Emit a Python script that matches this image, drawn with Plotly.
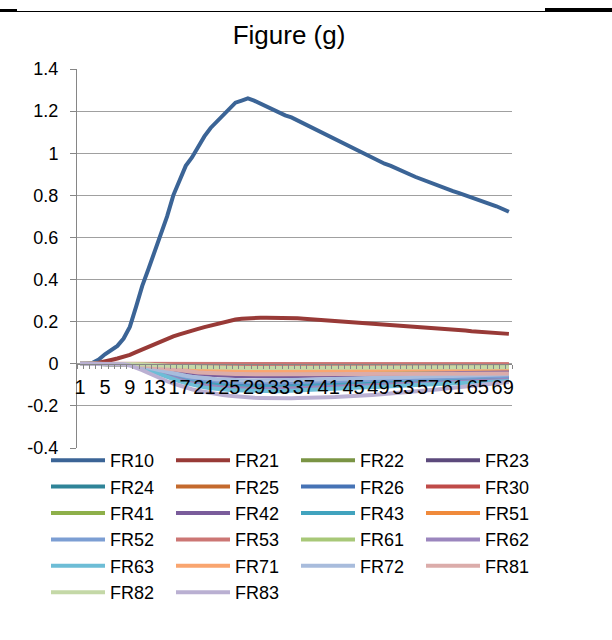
import plotly.graph_objects as go

# ---------------- data ----------------
periods = list(range(1, 71))
x_tick_vals = [1, 5, 9, 13, 17, 21, 25, 29, 33, 37, 41, 45, 49, 53, 57, 61, 65, 69]
x_tick_text = ["1", "5", "9", "13", "17", "21", "25", "29", "33", "37", "41", "45",
               "49", "53", "57", "61", "65", "69"]
y_tick_vals = [1.4, 1.2, 1.0, 0.8, 0.6, 0.4, 0.2, 0.0, -0.2, -0.4]
y_tick_text = ["1.4", "1.2", "1", "0.8", "0.6", "0.4", "0.2", "0", "-0.2", "-0.4"]

fr10 = [0, 0, 0.005, 0.02, 0.045, 0.065, 0.085, 0.12, 0.175, 0.27,
        0.37, 0.45, 0.53, 0.61, 0.70, 0.80, 0.87, 0.94, 0.98, 1.03,
        1.08, 1.12, 1.15, 1.18, 1.215, 1.24, 1.25, 1.26, 1.25, 1.235,
        1.225, 1.21, 1.195, 1.18, 1.17, 1.155, 1.14, 1.125, 1.11, 1.095,
        1.08, 1.065, 1.05, 1.035, 1.02, 1.005, 0.99, 0.98, 0.965, 0.95,
        0.94, 0.925, 0.91, 0.90, 0.887, 0.875, 0.864, 0.853, 0.842, 0.831,
        0.82, 0.81, 0.80, 0.79, 0.78, 0.77, 0.758, 0.748, 0.735, 0.722]
fr21 = [0, 0, 0.002, 0.005, 0.01, 0.018, 0.025, 0.033, 0.042, 0.055,
        0.068, 0.08, 0.095, 0.108, 0.12, 0.13, 0.14, 0.15, 0.158, 0.166,
        0.174, 0.182, 0.19, 0.198, 0.205, 0.21, 0.214, 0.217, 0.218, 0.219,
        0.219, 0.219, 0.219, 0.218, 0.217, 0.216, 0.214, 0.212, 0.21, 0.208,
        0.206, 0.204, 0.202, 0.2, 0.198, 0.196, 0.194, 0.192, 0.19, 0.188,
        0.186, 0.184, 0.182, 0.179, 0.177, 0.175, 0.172, 0.17, 0.168, 0.165,
        0.163, 0.16, 0.158, 0.155, 0.153, 0.15, 0.148, 0.146, 0.144, 0.142]
fr22 = [0, 0, 0, 0, 0, 0, 0, 0, 0, -.001,
        -.003, -.004, -.006, -.008, -.010, -.011, -.013, -.014, -.015, -.016,
        -.017, -.018, -.018, -.019, -.019, -.019, -.020, -.020, -.020, -.020,
        -.020, -.020, -.020, -.020, -.020, -.019, -.019, -.019, -.019, -.019,
        -.018, -.018, -.018, -.018, -.018, -.017, -.017, -.017, -.017, -.017,
        -.016, -.016, -.016, -.016, -.016, -.015, -.015, -.015, -.015, -.015,
        -.014, -.014, -.014, -.014, -.014, -.013, -.013, -.013, -.013, -.013]
fr23 = [0, 0, 0, 0, 0, 0, 0, 0, -.001, -.002,
        -.004, -.007, -.009, -.012, -.015, -.017, -.019, -.021, -.023, -.025,
        -.026, -.027, -.028, -.028, -.029, -.029, -.029, -.030, -.030, -.030,
        -.030, -.030, -.030, -.030, -.029, -.029, -.029, -.029, -.028, -.028,
        -.028, -.027, -.027, -.027, -.026, -.026, -.026, -.026, -.025, -.025,
        -.025, -.024, -.024, -.024, -.023, -.023, -.023, -.023, -.022, -.022,
        -.022, -.021, -.021, -.021, -.020, -.020, -.020, -.020, -.019, -.019]
fr24 = [0, 0, 0, 0, 0, 0, 0, 0, -.001, -.004,
        -.007, -.011, -.016, -.020, -.025, -.029, -.032, -.036, -.039, -.041,
        -.043, -.045, -.046, -.047, -.048, -.049, -.049, -.050, -.050, -.050,
        -.050, -.050, -.050, -.050, -.049, -.049, -.048, -.048, -.047, -.047,
        -.046, -.046, -.045, -.045, -.044, -.044, -.043, -.043, -.042, -.042,
        -.041, -.041, -.040, -.040, -.039, -.039, -.038, -.038, -.037, -.037,
        -.036, -.036, -.035, -.035, -.034, -.034, -.033, -.033, -.032, -.032]
fr25 = [0, 0, 0, 0, 0, 0, 0, 0, 0, -.001,
        -.001, -.002, -.003, -.004, -.005, -.006, -.006, -.007, -.008, -.008,
        -.009, -.009, -.009, -.009, -.010, -.010, -.010, -.010, -.010, -.010,
        -.010, -.010, -.010, -.010, -.009, -.009, -.009, -.009, -.009, -.009,
        -.009, -.009, -.009, -.009, -.008, -.008, -.008, -.008, -.008, -.008,
        -.008, -.008, -.008, -.008, -.008, -.007, -.007, -.007, -.007, -.007,
        -.007, -.007, -.007, -.007, -.007, -.007, -.007, -.007, -.007, -.007]
fr26 = [0, 0, 0, 0, 0, 0, 0, 0, -.002, -.007,
        -.014, -.022, -.031, -.040, -.049, -.057, -.064, -.071, -.077, -.082,
        -.086, -.089, -.092, -.094, -.096, -.097, -.098, -.099, -.100, -.100,
        -.100, -.100, -.100, -.099, -.098, -.097, -.096, -.095, -.094, -.093,
        -.092, -.091, -.090, -.089, -.088, -.087, -.086, -.085, -.084, -.083,
        -.082, -.081, -.080, -.079, -.078, -.077, -.076, -.075, -.074, -.073,
        -.072, -.071, -.070, -.069, -.068, -.067, -.066, -.065, -.064, -.063]
fr30 = [0, 0, 0, 0, 0, 0, 0, 0, 0, 0,
        -.001, -.001, -.002, -.002, -.002, -.003, -.003, -.004, -.004, -.004,
        -.004, -.004, -.005, -.005, -.005, -.005, -.005, -.005, -.005, -.005,
        -.005, -.005, -.005, -.005, -.005, -.005, -.005, -.005, -.005, -.005,
        -.005, -.005, -.005, -.005, -.005, -.004, -.004, -.004, -.004, -.004,
        -.004, -.004, -.004, -.004, -.004, -.004, -.004, -.004, -.004, -.004,
        -.004, -.004, -.004, -.004, -.004, -.004, -.004, -.004, -.004, -.004]
fr41 = [0, 0, 0, 0, 0, 0, 0, 0, -.001, -.003,
        -.006, -.009, -.012, -.016, -.020, -.023, -.026, -.028, -.031, -.033,
        -.034, -.036, -.037, -.038, -.038, -.039, -.039, -.040, -.040, -.040,
        -.040, -.040, -.040, -.040, -.039, -.039, -.038, -.038, -.038, -.037,
        -.037, -.036, -.036, -.036, -.035, -.035, -.034, -.034, -.034, -.033,
        -.033, -.032, -.032, -.032, -.031, -.031, -.030, -.030, -.030, -.029,
        -.029, -.028, -.028, -.028, -.027, -.027, -.026, -.026, -.026, -.025]
fr42 = [0, 0, 0, 0, 0, 0, 0, 0, -.001, -.004,
        -.008, -.013, -.019, -.024, -.029, -.034, -.038, -.043, -.046, -.049,
        -.052, -.053, -.055, -.056, -.058, -.058, -.059, -.059, -.060, -.060,
        -.060, -.060, -.060, -.059, -.059, -.058, -.058, -.057, -.056, -.056,
        -.055, -.055, -.054, -.053, -.053, -.052, -.052, -.051, -.050, -.050,
        -.049, -.049, -.048, -.047, -.047, -.046, -.046, -.045, -.044, -.044,
        -.043, -.043, -.042, -.041, -.041, -.040, -.040, -.039, -.038, -.038]
fr43 = [0, 0, 0, 0, 0, 0, 0, 0, -.002, -.008,
        -.015, -.024, -.034, -.044, -.054, -.063, -.070, -.078, -.085, -.090,
        -.095, -.098, -.101, -.103, -.106, -.107, -.108, -.109, -.110, -.110,
        -.110, -.110, -.110, -.109, -.108, -.107, -.106, -.105, -.103, -.102,
        -.101, -.100, -.099, -.098, -.097, -.096, -.095, -.094, -.092, -.091,
        -.090, -.089, -.088, -.087, -.086, -.085, -.084, -.083, -.081, -.080,
        -.079, -.078, -.077, -.076, -.075, -.074, -.073, -.072, -.070, -.069]
fr51 = [0, 0, 0, 0, 0, 0, 0, 0, -.001, -.002,
        -.004, -.007, -.009, -.012, -.015, -.017, -.019, -.021, -.023, -.025,
        -.026, -.027, -.028, -.028, -.029, -.029, -.029, -.030, -.030, -.030,
        -.030, -.030, -.030, -.030, -.029, -.029, -.029, -.029, -.028, -.028,
        -.028, -.027, -.027, -.027, -.026, -.026, -.026, -.026, -.025, -.025,
        -.025, -.024, -.024, -.024, -.023, -.023, -.023, -.023, -.022, -.022,
        -.022, -.021, -.021, -.021, -.020, -.020, -.020, -.020, -.019, -.019]
fr52 = [0, 0, 0, 0, 0, 0, 0, 0, -.002, -.006,
        -.013, -.020, -.028, -.036, -.044, -.051, -.058, -.064, -.069, -.074,
        -.077, -.080, -.083, -.085, -.086, -.087, -.088, -.089, -.090, -.090,
        -.090, -.090, -.090, -.089, -.088, -.087, -.086, -.086, -.085, -.084,
        -.083, -.082, -.081, -.080, -.079, -.078, -.077, -.077, -.076, -.075,
        -.074, -.073, -.072, -.071, -.070, -.069, -.068, -.068, -.067, -.066,
        -.065, -.064, -.063, -.062, -.061, -.060, -.059, -.059, -.058, -.057]
fr53 = [0, 0, 0, 0, 0, 0, 0, 0, 0, 0,
        0, -.001, -.001, -.001, -.001, -.002, -.002, -.002, -.002, -.002,
        -.003, -.003, -.003, -.003, -.003, -.003, -.003, -.003, -.003, -.003,
        -.003, -.003, -.003, -.003, -.003, -.003, -.003, -.003, -.003, -.003,
        -.003, -.003, -.003, -.003, -.003, -.003, -.003, -.003, -.003, -.003,
        -.003, -.003, -.003, -.003, -.003, -.003, -.003, -.003, -.003, -.003,
        -.002, -.002, -.002, -.002, -.002, -.002, -.002, -.002, -.002, -.002]
fr61 = [0, 0, 0, 0, 0, 0, 0, 0, -.001, -.002,
        -.004, -.006, -.008, -.010, -.012, -.014, -.016, -.018, -.019, -.021,
        -.022, -.022, -.023, -.024, -.024, -.024, -.025, -.025, -.025, -.025,
        -.025, -.025, -.025, -.025, -.024, -.024, -.024, -.024, -.023, -.023,
        -.023, -.023, -.022, -.022, -.022, -.022, -.021, -.021, -.021, -.021,
        -.020, -.020, -.020, -.020, -.019, -.019, -.019, -.019, -.018, -.018,
        -.018, -.018, -.017, -.017, -.017, -.017, -.016, -.016, -.016, -.016]
fr62 = [0, 0, 0, 0, 0, 0, 0, 0, -.002, -.008,
        -.017, -.026, -.037, -.048, -.059, -.068, -.077, -.085, -.092, -.098,
        -.103, -.107, -.110, -.113, -.115, -.116, -.118, -.119, -.120, -.120,
        -.120, -.120, -.120, -.119, -.118, -.116, -.115, -.114, -.113, -.112,
        -.110, -.109, -.108, -.107, -.106, -.104, -.103, -.102, -.101, -.100,
        -.098, -.097, -.096, -.095, -.094, -.092, -.091, -.090, -.089, -.088,
        -.086, -.085, -.084, -.083, -.082, -.080, -.079, -.078, -.077, -.076]
fr63 = [0, 0, 0, 0, 0, 0, 0, 0, -.003, -.009,
        -.018, -.029, -.040, -.052, -.064, -.074, -.083, -.092, -.100, -.107,
        -.112, -.116, -.120, -.122, -.125, -.126, -.127, -.129, -.130, -.130,
        -.130, -.130, -.130, -.129, -.127, -.126, -.125, -.124, -.122, -.121,
        -.120, -.118, -.117, -.116, -.114, -.113, -.112, -.111, -.109, -.108,
        -.107, -.105, -.104, -.103, -.101, -.100, -.099, -.098, -.096, -.095,
        -.094, -.092, -.091, -.090, -.088, -.087, -.086, -.085, -.083, -.082]
fr71 = [0, 0, 0, 0, 0, 0, 0, 0, -.001, -.002,
        -.005, -.008, -.011, -.014, -.017, -.020, -.022, -.025, -.027, -.029,
        -.030, -.031, -.032, -.033, -.034, -.034, -.034, -.035, -.035, -.035,
        -.035, -.035, -.035, -.035, -.034, -.034, -.034, -.033, -.033, -.033,
        -.032, -.032, -.032, -.031, -.031, -.031, -.030, -.030, -.030, -.029,
        -.029, -.029, -.028, -.028, -.028, -.027, -.027, -.027, -.026, -.026,
        -.026, -.025, -.025, -.025, -.024, -.024, -.024, -.023, -.023, -.023]
fr72 = [0, 0, 0, 0, 0, 0, 0, 0, -.002, -.006,
        -.011, -.018, -.025, -.032, -.039, -.046, -.051, -.057, -.062, -.066,
        -.069, -.071, -.074, -.075, -.077, -.078, -.078, -.079, -.080, -.080,
        -.080, -.080, -.080, -.079, -.078, -.078, -.077, -.076, -.075, -.074,
        -.074, -.073, -.072, -.071, -.070, -.070, -.069, -.068, -.067, -.066,
        -.066, -.065, -.064, -.063, -.062, -.062, -.061, -.060, -.059, -.058,
        -.058, -.057, -.056, -.055, -.054, -.054, -.053, -.052, -.051, -.050]
fr81 = [0, 0, 0, 0, 0, 0, 0, 0, -.001, -.004,
        -.007, -.011, -.016, -.020, -.025, -.029, -.032, -.036, -.039, -.041,
        -.043, -.045, -.046, -.047, -.048, -.049, -.049, -.050, -.050, -.050,
        -.050, -.050, -.050, -.050, -.050, -.050, -.050, -.050, -.050, -.050,
        -.049, -.049, -.049, -.049, -.049, -.049, -.049, -.049, -.049, -.049,
        -.048, -.048, -.048, -.048, -.048, -.048, -.048, -.048, -.047, -.047,
        -.047, -.047, -.047, -.047, -.046, -.046, -.046, -.046, -.046, -.046]
fr82 = [0, 0, 0, 0, 0, 0, 0, 0, 0, -.001,
        -.003, -.004, -.006, -.008, -.010, -.011, -.013, -.014, -.015, -.016,
        -.017, -.018, -.018, -.019, -.019, -.019, -.020, -.020, -.020, -.020,
        -.020, -.020, -.020, -.020, -.020, -.020, -.020, -.020, -.020, -.020,
        -.019, -.019, -.019, -.019, -.019, -.019, -.019, -.019, -.019, -.019,
        -.018, -.018, -.018, -.018, -.018, -.018, -.018, -.018, -.018, -.018,
        -.017, -.017, -.017, -.017, -.017, -.017, -.017, -.017, -.017, -.017]
fr83 = [0, 0, 0, 0, 0, 0, 0, -.002, -.008, -.018,
        -.030, -.044, -.058, -.071, -.083, -.094, -.104, -.113, -.121, -.128,
        -.134, -.139, -.144, -.148, -.152, -.155, -.157, -.159, -.161, -.162,
        -.163, -.164, -.164, -.164, -.164, -.163, -.163, -.162, -.161, -.160,
        -.159, -.158, -.157, -.155, -.154, -.152, -.150, -.148, -.146, -.144,
        -.141, -.139, -.136, -.134, -.131, -.128, -.126, -.123, -.120, -.117,
        -.114, -.111, -.108, -.105, -.102, -.099, -.096, -.093, -.090, -.087]

series_names = ["FR10", "FR21", "FR22", "FR23", "FR24", "FR25", "FR26", "FR30",
                "FR41", "FR42", "FR43", "FR51", "FR52", "FR53", "FR61", "FR62",
                "FR63", "FR71", "FR72", "FR81", "FR82", "FR83"]
series_values = [fr10, fr21, fr22, fr23, fr24, fr25, fr26, fr30,
                 fr41, fr42, fr43, fr51, fr52, fr53, fr61, fr62,
                 fr63, fr71, fr72, fr81, fr82, fr83]
series_colors = ["#3B6496", "#983A37", "#7A9444", "#5C4A7C", "#2F8498", "#C46A2D",
                 "#4673B5", "#BF4B48", "#8EB04A", "#7A5C9B", "#41A3BE", "#F08A3B",
                 "#7C9ED3", "#CC7674", "#A8C878", "#9B86BE", "#6DBDD6", "#F9A56F",
                 "#A8BCDC", "#DBACAA", "#C4D8A7", "#BAB0D2"]

# ---------------- figure ----------------
FONT = "Liberation Sans, Arial, sans-serif"
W, H = 612, 640
ML, MR, MT, MB = 77, 100, 69, 192
y_min, y_max = -0.4, 1.4

fig = go.Figure()
for name, vals, col in zip(series_names, series_values, series_colors):
    fig.add_trace(go.Scatter(x=periods, y=vals, name=name, mode="lines",
                             line=dict(color=col, width=4)))

zero_pos = (0 - y_min) / (y_max - y_min)
pw = W - ML - MR
ph = H - MT - MB

fig.update_layout(
    width=W, height=H,
    margin=dict(l=ML, r=MR, t=MT, b=MB, pad=0),
    paper_bgcolor="white", plot_bgcolor="white",
    font=dict(family=FONT, color="#000000", size=18),
    title=dict(text="Figure (g)", x=(289 - ML) / pw, xref="paper", xanchor="center",
               y=1 - 35 / H, yref="container", yanchor="middle",
               font=dict(family=FONT, size=26, color="#000000")),
    showlegend=True,
    legend=dict(orientation="h", x=(46 - ML) / pw, xanchor="left",
                y=-(611 - (H - MB)) / ph, yanchor="bottom",
                font=dict(family=FONT, size=18, color="#000000"),
                itemwidth=54, entrywidth=56, entrywidthmode="pixels",
                tracegroupgap=0, bgcolor="rgba(0,0,0,0)", traceorder="normal"),
    xaxis=dict(range=[0.5, 70.5], anchor="free", position=zero_pos,
               showgrid=False, zeroline=False,
               showline=True, linecolor="#868686", linewidth=1,
               tickmode="array", tickvals=x_tick_vals, ticktext=x_tick_text,
               ticks="", tickangle=0, ticklabelstandoff=5,
               tickfont=dict(family=FONT, size=20, color="#000000"),
               minor=dict(tickmode="linear", tick0=0.5, dtick=1, ticks="outside",
                          ticklen=4, tickcolor="#868686", tickwidth=1, showgrid=False)),
    yaxis=dict(range=[y_min, y_max], domain=[0, 1],
               tickmode="array", tickvals=y_tick_vals, ticktext=y_tick_text,
               showgrid=True, gridcolor="#A0A0A0", gridwidth=1, zeroline=False,
               showline=True, linecolor="#868686", linewidth=1,
               ticks="outside", ticklen=6, tickcolor="#868686",
               ticklabelstandoff=8,
               tickfont=dict(family=FONT, size=18, color="#000000")),
    shapes=[
        dict(type="line", xref="paper", yref="paper",
             x0=-ML / pw, x1=(W - ML) / pw, y0=(H - MB - 11.5) / ph, y1=(H - MB - 11.5) / ph,
             line=dict(color="black", width=1)),
        dict(type="line", xref="paper", yref="paper",
             x0=-ML / pw, x1=(17 - ML) / pw, y0=(H - MB - 10.5) / ph, y1=(H - MB - 10.5) / ph,
             line=dict(color="black", width=3)),
        dict(type="line", xref="paper", yref="paper",
             x0=(545 - ML) / pw, x1=(W - ML) / pw, y0=(H - MB - 9.5) / ph, y1=(H - MB - 9.5) / ph,
             line=dict(color="black", width=3)),
    ],
)

fig.write_html("out.html")
